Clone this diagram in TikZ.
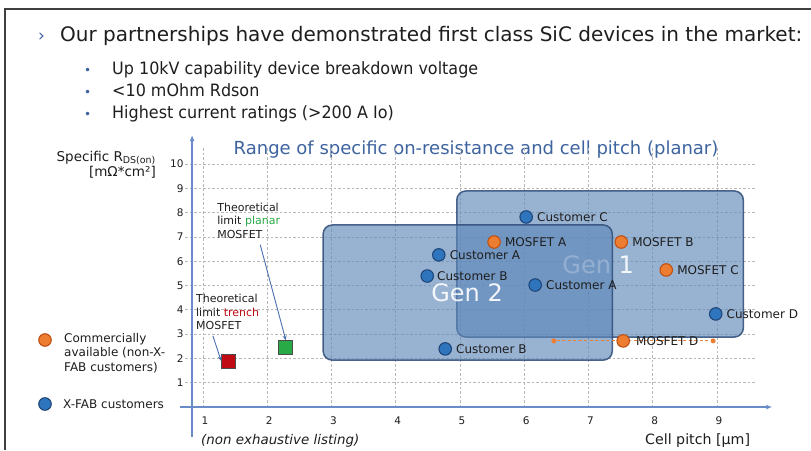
\documentclass[tikz,border=0pt]{standalone}
\usepackage{fontspec}
\setmainfont{DejaVu Sans}
\newfontfamily\bulletfont[FakeStretch=0.94]{DejaVu Sans}
\usetikzlibrary{positioning,arrows.meta}
\definecolor{txt}{RGB}{30,30,30}
\definecolor{titleblue}{RGB}{62,100,160}
\definecolor{axisblue}{RGB}{105,140,200}
\definecolor{arrowblue}{RGB}{75,112,175}
\definecolor{custfill}{RGB}{46,117,190}
\definecolor{custline}{RGB}{30,70,120}
\definecolor{commfill}{RGB}{237,125,49}
\definecolor{commline}{RGB}{190,80,20}
\definecolor{genfill}{RGB}{94,135,185}
\definecolor{genline}{RGB}{45,75,118}
\definecolor{planargreen}{RGB}{40,170,70}
\definecolor{trenchred}{RGB}{192,10,20}

\begin{document}
\begin{tikzpicture}[x=1pt,y=-1pt,
    cust/.style={circle,draw=custline,fill=custfill,line width=1.1pt,minimum size=12.5pt,inner sep=0pt},
    comm/.style={circle,draw=commline,fill=commfill,line width=1.1pt,minimum size=12.5pt,inner sep=0pt},
    lbl/.style={font=\fontsize{12}{14.5}\selectfont,text=txt,inner sep=0pt},
    tick/.style={font=\fontsize{10.5}{12}\selectfont,text=txt,inner sep=0pt},
    note/.style={font=\fontsize{11}{13.5}\selectfont,text=txt,align=left,inner sep=0pt,anchor=north west},
    bullet/.style={anchor=base west,text=titleblue,font=\fontsize{12}{14}\selectfont,inner sep=0pt},
    point/.style={anchor=base west,text=txt,font=\bulletfont\fontsize{17}{20}\selectfont,inner sep=0pt},
    limitsq/.style={draw=black!70,line width=1pt,minimum size=14pt,inner sep=0pt},
    genbox/.style={draw=genline,draw opacity=.85,line width=1.5pt,fill=genfill,fill opacity=.64,rounded corners=9pt},
    gentext/.style={text=white,text opacity=.9,font=\fontsize{24}{26}\selectfont,inner sep=0pt},
    gridline/.style={black!28,dash pattern=on 2.5pt off 2pt,line width=.7pt},
    noteline/.style={arrowblue,line width=.9pt,-{Stealth[length=5pt,width=4pt]}}]
  \useasboundingbox[fill=white] (0,0) rectangle (811,450);
  \draw[line width=1.4pt,black!75] (5,450) -- (5,9) -- (811,9);

  % header and bullets
  \node[anchor=base west,text=titleblue,font=\fontsize{17}{20}\selectfont,inner sep=0pt] (chev) at (38,41) {›};
  \node[anchor=base west,text=txt,font=\fontsize{20}{24}\selectfont,inner sep=0pt] (head) at (60,41)
    {Our partnerships have demonstrated first class SiC devices in the market:};
  \node[bullet] (d1) at (84,74) {•};
  \node[bullet] (d2) at (84,96) {•};
  \node[bullet] (d3) at (84,118) {•};
  \node[point] (b1) at (112,74) {Up 10kV capability device breakdown voltage};
  \node[point] (b2) at (112,96) {<10 mOhm Rdson};
  \node[point] (b3) at (112,118) {Highest current ratings (>200 A Io)};

  % titles and axis captions
  \node[text=titleblue,font=\fontsize{18}{21}\selectfont,inner sep=0pt] (title) at (476,150)
    {Range of specific on-resistance and cell pitch (planar)};
  \node[lbl,align=right,anchor=east,font=\fontsize{13.5}{15.5}\selectfont] (ylab) at (156,165)
    {Specific R\textsubscript{DS(on)}\\{[mΩ*cm²]}};
  \node[lbl,anchor=west,font=\itshape\fontsize{13.4}{15}\selectfont] (note0) at (201,441) {(non exhaustive listing)};
  \node[lbl,anchor=west,font=\fontsize{14.2}{16}\selectfont] (xlab) at (645,441) {Cell pitch [µm]};

  % legend
  \node[comm] (lgc) at (45,340) {};
  \node[lbl,anchor=north west,align=left] (lgct) at (64,333) {Commercially\\available (non-X-\\FAB customers)};
  \node[cust] (lgx) at (45,404) {};
  \node[lbl,anchor=west] (lgxt) at (63,404) {X-FAB customers};

  \begin{scope}[shift={(138.75,407)},x=64.25pt,y=24.3pt]
    % grid
    \foreach \i in {1,...,9} \draw[gridline] (\i,0) -- (\i,10.66);
    \foreach \j in {1,...,10} \draw[gridline] (0.72,\j) -- (9.59,\j);
    % axes
    \draw[axisblue,line width=1.3pt,-{Latex[length=6pt,width=5pt]}] (0.64,0) -- (9.86,0);
    \draw[axisblue,line width=1.3pt,-{Latex[length=6pt,width=5pt]}] (0.83,-1.23) -- (0.83,11.19);
    \foreach \i in {1,...,9} \node[tick] at (\i+0.03,-0.58) {\i};
    \foreach \j in {1,...,10} \node[tick,anchor=east] at (0.70,\j) {\j};

    % generation ranges
    \draw[genbox] (4.95,2.88) rectangle (9.41,8.89);
    \node[gentext] (g1) at (7.15,5.84) {Gen 1};
    \draw[genbox] (2.87,1.93) rectangle (7.37,7.49);
    \node[gentext] (g2) at (5.11,4.69) {Gen 2};

    % MOSFET D spread
    \node[circle,fill=commfill,inner sep=0pt,minimum size=5pt] (dL) at (6.46,2.72) {};
    \node[circle,fill=commfill,inner sep=0pt,minimum size=5pt] (dR) at (8.94,2.72) {};
    \draw[commfill,dash pattern=on 3pt off 2.5pt,line width=1pt] (dL) -- (dR);

    % devices
    \node[cust] (cC) at (6.03,7.82) {};
    \node[lbl,right=4pt of cC] (cC-l) {Customer C};
    \node[comm] (mA) at (5.53,6.79) {};
    \node[lbl,right=4pt of mA] (mA-l) {MOSFET A};
    \node[comm] (mB) at (7.51,6.79) {};
    \node[lbl,right=4pt of mB] (mB-l) {MOSFET B};
    \node[cust] (cA1) at (4.67,6.26) {};
    \node[lbl,right=4pt of cA1] (cA1-l) {Customer A};
    \node[cust] (cB1) at (4.49,5.39) {};
    \node[lbl,right=3pt of cB1] (cB1-l) {Customer B};
    \node[cust] (cA2) at (6.17,5.02) {};
    \node[lbl,right=4pt of cA2] (cA2-l) {Customer A};
    \node[comm] (mC) at (8.21,5.64) {};
    \node[lbl,right=4pt of mC] (mC-l) {MOSFET C};
    \node[cust] (cD) at (8.98,3.83) {};
    \node[lbl,right=4pt of cD] (cD-l) {Customer D};
    \node[comm] (mD) at (7.54,2.72) {};
    \node[lbl,right=6pt of mD] (mD-l) {MOSFET D};
    \node[cust] (cB2) at (4.77,2.39) {};
    \node[lbl,right=4pt of cB2] (cB2-l) {Customer B};

    % theoretical limits
    \node[limitsq,fill=trenchred] (tsq) at (1.40,1.89) {};
    \node[limitsq,fill=planargreen] (psq) at (2.29,2.43) {};
    \node[note] (pnote) at (1.22,8.40) {Theoretical\\limit \textcolor{planargreen}{planar}\\MOSFET};
    \node[note] (tnote) at (0.89,4.65) {Theoretical\\limit \textcolor{trenchred}{trench}\\MOSFET};
    \draw[noteline] ([xshift=-20pt,yshift=-6pt]pnote.south east) -- (psq.north);
    \draw[noteline] ([xshift=17pt,yshift=-6pt]tnote.south west) -- (tsq.west);
  \end{scope}
\end{tikzpicture}
\end{document}
